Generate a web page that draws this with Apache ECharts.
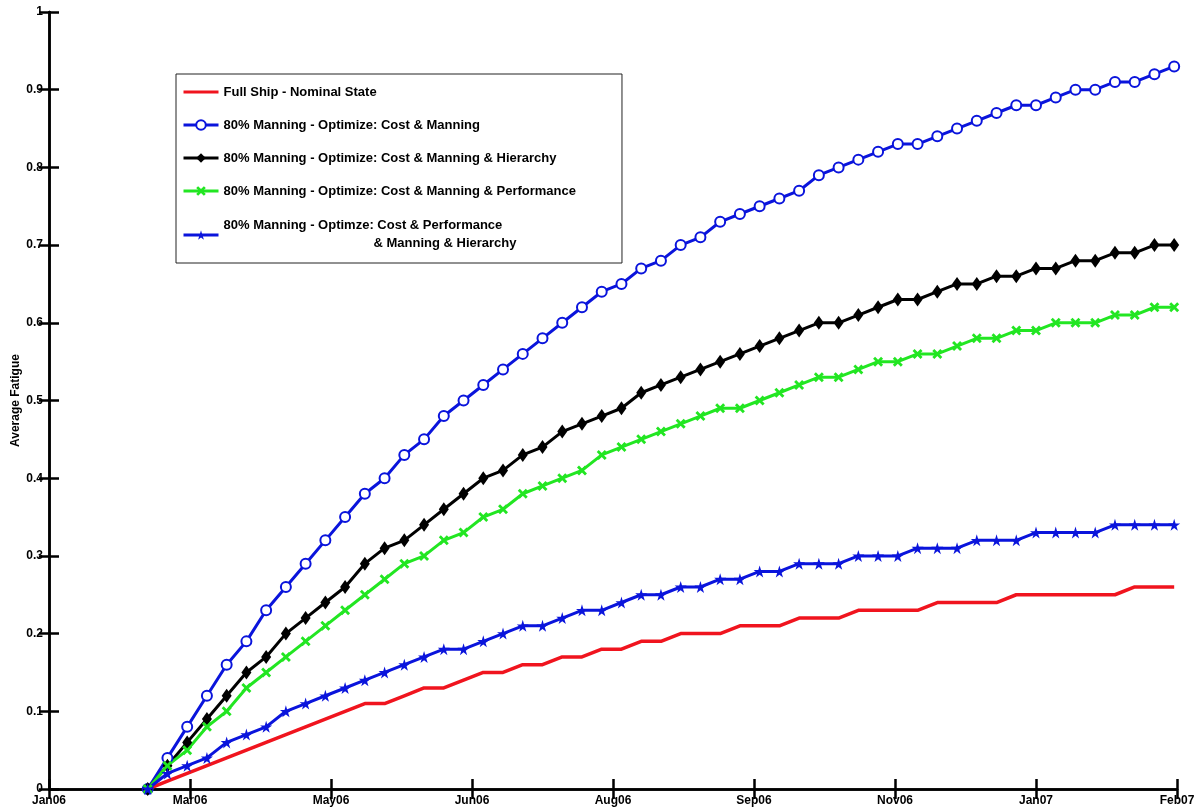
<!DOCTYPE html>
<html>
<head>
<meta charset="utf-8">
<script src="https://cdn.jsdelivr.net/npm/echarts@6/dist/echarts.min.js"></script>
<style>html,body{margin:0;padding:0;background:#fff}#chart{width:1199px;height:812px}</style>
</head>
<body>
<div id="chart"></div>
<script>
const tickLabels = ['Jan06','Mar06','May06','Jun06','Aug06','Sep06','Nov06','Jan07','Feb07'];
const dayOffsets = [35,42,49,56,63,70,77,84,91,98,105,112,119,126,133,140,147,154,161,168,175,182,189,196,203,210,217,224,231,238,245,252,259,266,273,280,287,294,301,308,315,322,329,336,343,350,357,364,371,378,385,392,399];
const seriesNames = [
  'Full Ship - Nominal State',
  '80% Manning - Optimize: Cost & Manning',
  '80% Manning - Optimize: Cost & Manning & Hierarchy',
  '80% Manning - Optimize: Cost & Manning & Performance',
  '80% Manning - Optimze: Cost & Performance & Manning & Hierarchy'
];
const fullShip = [0,.01,.02,.03,.04,.05,.06,.07,.08,.09,.10,.11,.11,.12,.13,.13,.14,.15,.15,.16,.16,.17,.17,.18,.18,.19,.19,.20,.20,.20,.21,.21,.21,.22,.22,.22,.23,.23,.23,.23,.24,.24,.24,.24,.25,.25,.25,.25,.25,.25,.26,.26,.26];
const costManning = [0,.04,.08,.12,.16,.19,.23,.26,.29,.32,.35,.38,.40,.43,.45,.48,.50,.52,.54,.56,.58,.60,.62,.64,.65,.67,.68,.70,.71,.73,.74,.75,.76,.77,.79,.80,.81,.82,.83,.83,.84,.85,.86,.87,.88,.88,.89,.90,.90,.91,.91,.92,.93];
const costManningHier = [0,.03,.06,.09,.12,.15,.17,.20,.22,.24,.26,.29,.31,.32,.34,.36,.38,.40,.41,.43,.44,.46,.47,.48,.49,.51,.52,.53,.54,.55,.56,.57,.58,.59,.60,.60,.61,.62,.63,.63,.64,.65,.65,.66,.66,.67,.67,.68,.68,.69,.69,.70,.70];
const costManningPerf = [0,.03,.05,.08,.10,.13,.15,.17,.19,.21,.23,.25,.27,.29,.30,.32,.33,.35,.36,.38,.39,.40,.41,.43,.44,.45,.46,.47,.48,.49,.49,.50,.51,.52,.53,.53,.54,.55,.55,.56,.56,.57,.58,.58,.59,.59,.60,.60,.60,.61,.61,.62,.62];
const costPerfManHier = [0,.02,.03,.04,.06,.07,.08,.10,.11,.12,.13,.14,.15,.16,.17,.18,.18,.19,.20,.21,.21,.22,.23,.23,.24,.25,.25,.26,.26,.27,.27,.28,.28,.29,.29,.29,.30,.30,.30,.31,.31,.31,.32,.32,.32,.33,.33,.33,.33,.34,.34,.34,.34];

const pair = arr => dayOffsets.map((d, i) => [d, arr[i]]);
const FONT = "'Liberation Sans', Arial, sans-serif";
const starPath = 'path://M50,0 L61,35 L98,35 L68,57 L79,91 L50,70 L21,91 L32,57 L2,35 L39,35 Z';
const xPath = 'path://M0,2 L2,0 L5,3 L8,0 L10,2 L7,5 L10,8 L8,10 L5,7 L2,10 L0,8 L3,5 Z';

const axisCommon = {
  axisLine: { show: true, lineStyle: { color: '#000', width: 2.5 } },
  axisTick: { show: true, inside: true, length: 10, lineStyle: { color: '#000', width: 2.5 } },
  splitLine: { show: false }
};

const chart = echarts.init(document.getElementById('chart'), null, { renderer: 'canvas' });
chart.setOption({
  animation: false,
  backgroundColor: '#fff',
  grid: { left: 49, right: 22, top: 12, bottom: 23, containLabel: false, outerBoundsMode: 'none' },
  legend: {
    orient: 'vertical',
    left: 176, top: 74,
    padding: [11, 46, 10, 6],
    itemGap: 19,
    itemWidth: 35, itemHeight: 12,
    backgroundColor: '#fff',
    borderColor: '#222', borderWidth: 1,
    lineStyle: { width: 3 },
    data: [
      { name: seriesNames[0], itemStyle: { opacity: 0 } },
      { name: seriesNames[1] },
      { name: seriesNames[2] },
      { name: seriesNames[3] },
      { name: seriesNames[4] }
    ],
    formatter: function (name) {
      if (name === seriesNames[4]) {
        return '{a|80% Manning - Optimze: Cost & Performance}\n{b|& Manning & Hierarchy}';
      }
      return name;
    },
    textStyle: {
      fontFamily: FONT, fontSize: 13, fontWeight: 'bold', color: '#000', lineHeight: 14,
      rich: {
        a: { fontFamily: FONT, fontSize: 13, fontWeight: 'bold', color: '#000', lineHeight: 16 },
        b: { fontFamily: FONT, fontSize: 13, fontWeight: 'bold', color: '#000', lineHeight: 20, padding: [0, 0, 0, 150] }
      }
    }
  },
  xAxis: [
    Object.assign({}, axisCommon, {
      type: 'value', position: 'bottom', min: 0, max: 400, interval: 50,
      axisLabel: {
        show: true, margin: 6, color: '#000', fontFamily: FONT, fontSize: 12, fontWeight: 'bold',
        formatter: (v) => tickLabels[Math.round(v / 50)] || ''
      }
    }),
    Object.assign({}, axisCommon, {
      type: 'value', position: 'top', min: 0, max: 400, interval: 50,
      axisLabel: { show: false }
    })
  ],
  yAxis: [
    Object.assign({}, axisCommon, {
      type: 'value', position: 'left', min: 0, max: 1, interval: 0.1,
      name: 'Average Fatigue', nameLocation: 'middle', nameGap: 27, nameMoveOverlap: false,
      nameTextStyle: { fontFamily: FONT, fontSize: 12, fontWeight: 'bold', color: '#000' },
      axisLabel: {
        show: true, margin: 6, color: '#000', fontFamily: FONT, fontSize: 12, fontWeight: 'bold',
        formatter: (v) => (Math.round(v * 10) / 10).toString()
      }
    }),
    Object.assign({}, axisCommon, {
      type: 'value', position: 'right', min: 0, max: 1, interval: 0.1,
      axisLabel: { show: false }
    })
  ],
  series: [
    {
      name: seriesNames[0], type: 'line', data: pair(fullShip), symbol: 'none',
      lineStyle: { color: '#f0141e', width: 3.5 }, itemStyle: { color: '#f0141e' }, clip: false
    },
    {
      name: seriesNames[1], type: 'line', data: pair(costManning), symbol: 'emptyCircle', symbolSize: 10,
      showAllSymbol: true, lineStyle: { color: '#0a14dc', width: 3 },
      itemStyle: { color: '#0a14dc', borderColor: '#0a14dc', borderWidth: 2.5 }, clip: false
    },
    {
      name: seriesNames[2], type: 'line', data: pair(costManningHier), symbol: 'diamond', symbolSize: [10, 14],
      showAllSymbol: true, lineStyle: { color: '#000', width: 3 },
      itemStyle: { color: '#000' }, clip: false
    },
    {
      name: seriesNames[3], type: 'line', data: pair(costManningPerf), symbol: xPath, symbolSize: 10,
      showAllSymbol: true, lineStyle: { color: '#22e622', width: 3 },
      itemStyle: { color: '#22e622' }, clip: false
    },
    {
      name: seriesNames[4], type: 'line', data: pair(costPerfManHier), symbol: starPath, symbolSize: 12,
      showAllSymbol: true, lineStyle: { color: '#0a14dc', width: 3 },
      itemStyle: { color: '#0a14dc' }, clip: false
    }
  ]
});
</script>
</body>
</html>
